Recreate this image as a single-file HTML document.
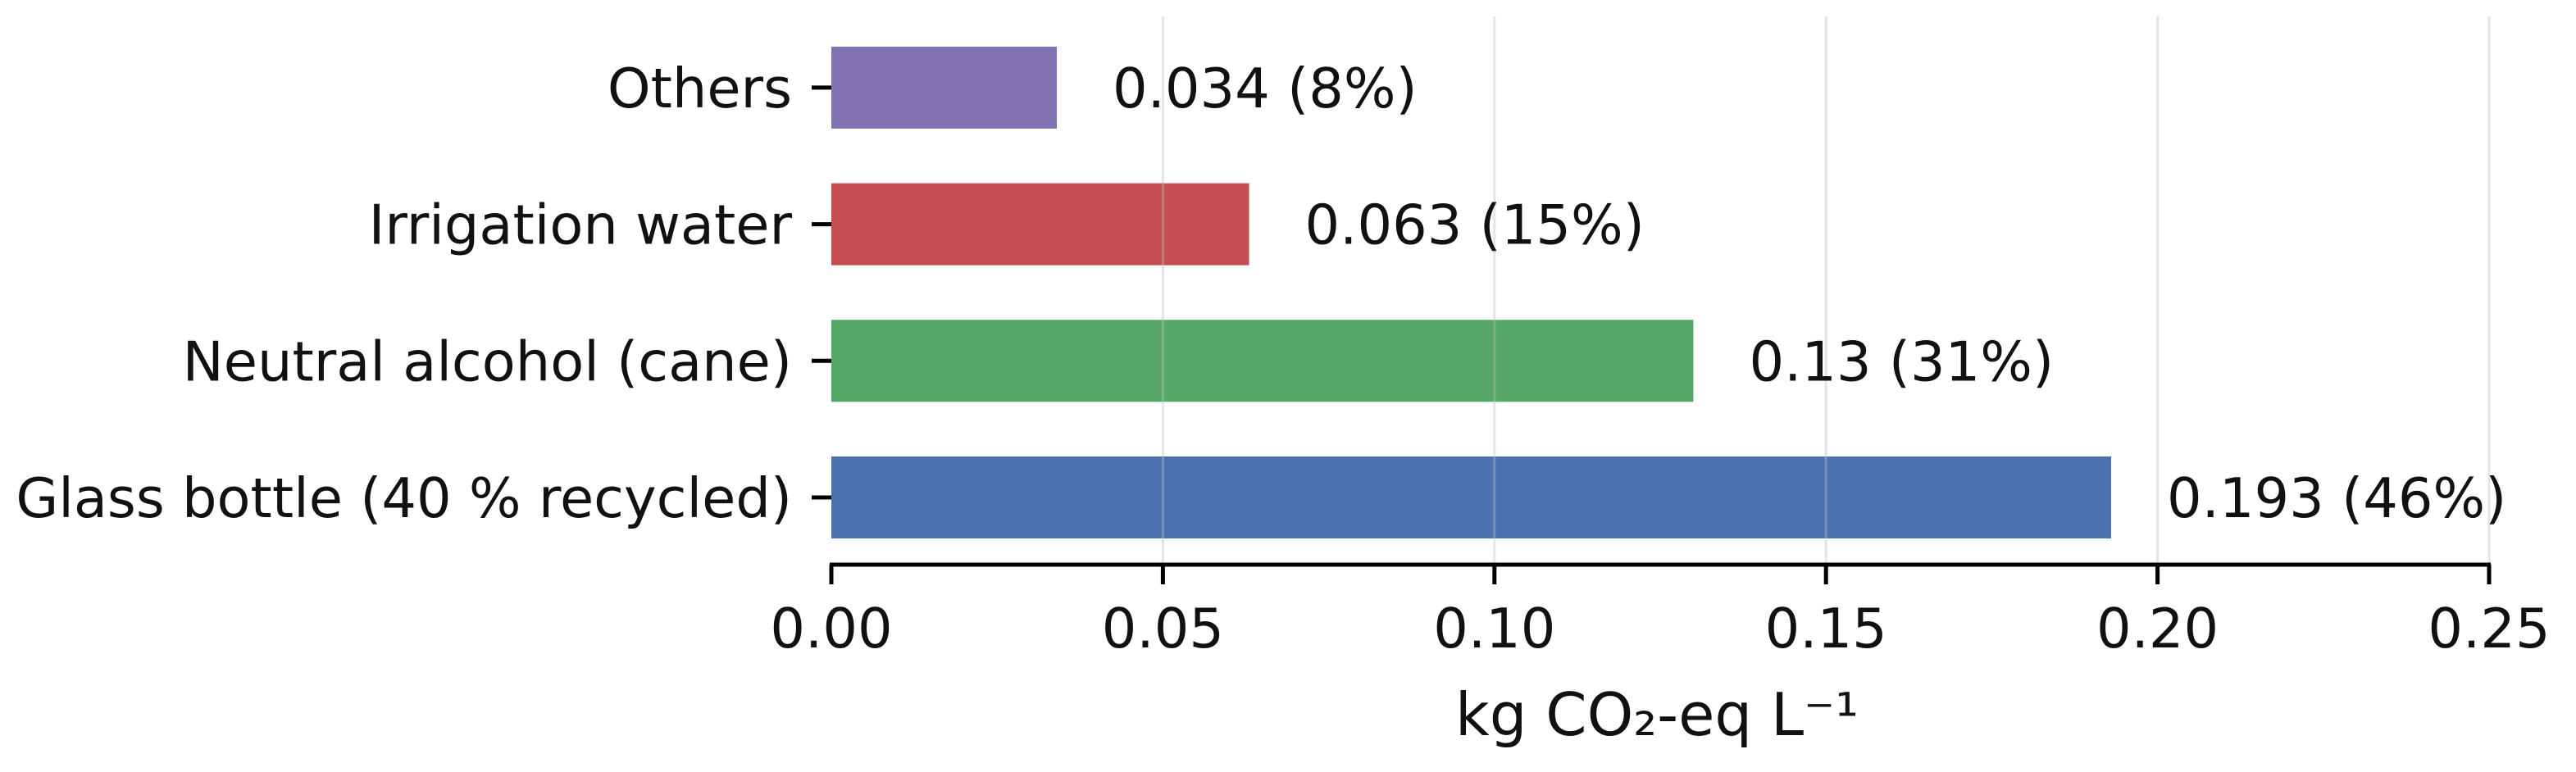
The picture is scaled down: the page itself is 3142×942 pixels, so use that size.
<!DOCTYPE html>
<html><head><meta charset="utf-8"><style>
html,body{margin:0;padding:0;background:#fff;}
svg{display:block;font-family:"DejaVu Sans","Liberation Sans",sans-serif;}
</style></head><body>
<svg id="chart" width="3142" height="942" viewBox="0 0 3142 942" xmlns="http://www.w3.org/2000/svg">
<g id="bars"></g><g id="grid"></g><g id="axes"></g><g id="labels"></g>
<text x="2021" y="897" font-size="72" text-anchor="middle" fill="#111">kg CO₂-eq L⁻¹</text>
</svg>
<script>
const categories = ["Glass bottle (40 % recycled)", "Neutral alcohol (cane)", "Irrigation water", "Others"];
const values = [0.193, 0.13, 0.063, 0.034];
const valueLabels = ["0.193 (46%)", "0.13 (31%)", "0.063 (15%)", "0.034 (8%)"];
const colors = ["#4a72ae", "#55a868", "#c44e52", "#8172b2"];
const ticks = [0, 0.05, 0.10, 0.15, 0.20, 0.25];
const tickLabels = ["0.00", "0.05", "0.10", "0.15", "0.20", "0.25"];

const NS = "http://www.w3.org/2000/svg";
const x0 = 1014, x1 = 3036, xmax = 0.25;
const X = v => x0 + (v / xmax) * (x1 - x0);
const yCenter0 = 607, step = 166.7, barH = 100;
const Y = i => yCenter0 - i * step;
const axisY = 689;
function mk(tag, attrs, parent){const e=document.createElementNS(NS,tag);for(const k in attrs)e.setAttribute(k,attrs[k]);document.getElementById(parent).appendChild(e);return e;}

ticks.forEach((t,i)=>{
  if(i>0){
    const g = mk("line",{x1:X(t),x2:X(t),y1:20,y2:axisY,stroke:"rgb(190,190,190)","stroke-opacity":0.4,"stroke-width":3},"grid");
    
    
  }
  const tk = mk("line",{x1:X(t),x2:X(t),y1:axisY,y2:axisY+24,stroke:"#000","stroke-width":5},"axes");
  
  
  const tl = mk("text",{x:X(t),y:790,"font-size":67,"text-anchor":"middle",fill:"#111"},"axes");
  tl.textContent = tickLabels[i];
  
  
});
const ax = mk("line",{x1:x0-2,x2:x1+2,y1:axisY,y2:axisY,stroke:"#000","stroke-width":5},"axes");



categories.forEach((c,i)=>{
  const cy = Y(i);
  const r = mk("rect",{x:x0,y:cy-barH/2,width:X(values[i])-x0,height:barH,fill:colors[i]},"bars");
  
  
  const yt = mk("line",{x1:990,x2:1014,y1:cy,y2:cy,stroke:"#000","stroke-width":5},"axes");
  
  
  const yl = mk("text",{x:966,y:cy+24,"font-size":67,"text-anchor":"end",fill:"#111"},"axes");
  yl.textContent = c;
  
  
  const vl = mk("text",{x:X(values[i])+68,y:cy+24,"font-size":67,fill:"#111"},"labels");
  vl.textContent = valueLabels[i];
  
  
});
</script>
</body></html>
